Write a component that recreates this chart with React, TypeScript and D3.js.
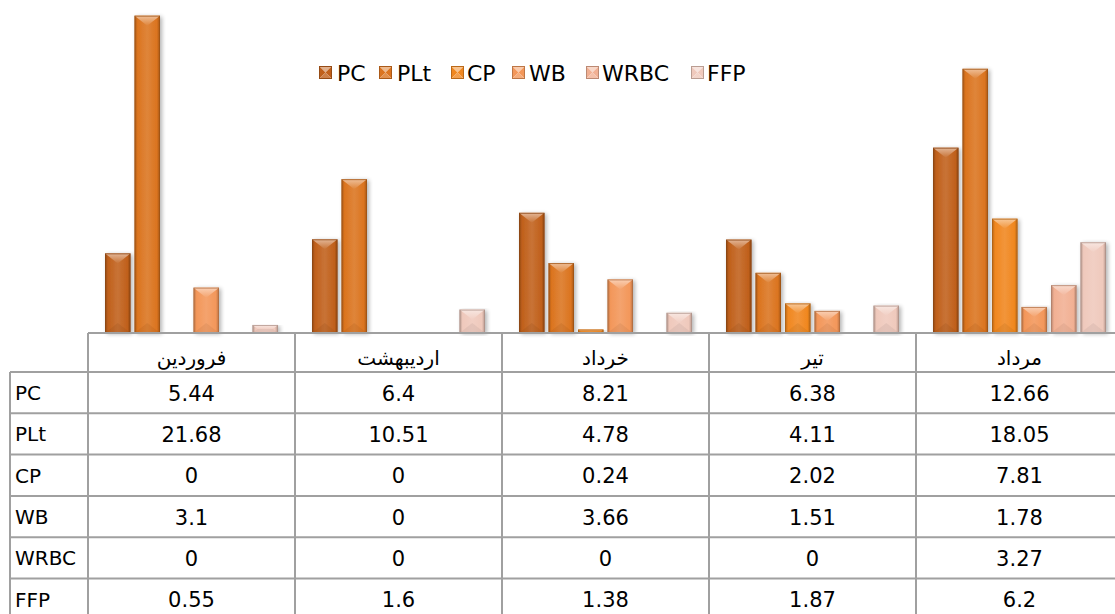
import React from 'react';
import * as d3 from 'd3';

const categories = ['فروردین', 'اردیبهشت', 'خرداد', 'تیر', 'مرداد'];
const seriesNames = ['PC', 'PLt', 'CP', 'WB', 'WRBC', 'FFP'];
const PC = [5.44, 6.4, 8.21, 6.38, 12.66];
const PLt = [21.68, 10.51, 4.78, 4.11, 18.05];
const CP = [0, 0, 0.24, 2.02, 7.81];
const WB = [3.1, 0, 3.66, 1.51, 1.78];
const WRBC = [0, 0, 0, 0, 3.27];
const FFP = [0.55, 1.6, 1.38, 1.87, 6.2];
const seriesValues = [PC, PLt, CP, WB, WRBC, FFP];
const seriesColors = ['#c0601b', '#db741f', '#f0871f', '#f3975a', '#f1b093', '#efc9bc'];

const W = 1115;
const H = 614;
const colW = 207;
const x0 = 88;
const baseY = 333;
const headerBottom = 372;
const rowH = 41.3;
const leftX = 10;
const lineColor = '#a0a0a0';
const font = "'DejaVu Sans', 'Noto Sans', sans-serif";

export default function App() {
  const x = d3.scaleBand<string>().domain(categories).range([x0, x0 + categories.length * colW]).padding(0);
  const xi = d3.scaleBand<string>().domain(seriesNames).range([15, 192]).paddingInner(0.136).paddingOuter(0.068);
  const y = d3.scaleLinear().domain([0, 22]).range([baseY, 11]);

  const bars: React.ReactNode[] = [];
  seriesNames.forEach((s, si) => {
    const col = seriesColors[si];
    const dark = d3.color(col)!.darker(0.9).formatHex();
    categories.forEach((c, ci) => {
      const v = seriesValues[si][ci];
      if (v <= 0) return;
      const bx0 = (x(c) ?? 0) + (xi(s) ?? 0);
      const w = xi.bandwidth();
      const yt = y(v);
      const h = baseY - yt;
      const bh = Math.min(10, h / 2);
      const bxx = (w / 2) * (bh / 10);
      const top = `${bx0},${yt} ${bx0 + w},${yt} ${bx0 + w - bxx},${yt + bh} ${bx0 + bxx},${yt + bh}`;
      const bot = `${bx0},${baseY} ${bx0 + w},${baseY} ${bx0 + w - bxx},${baseY - bh} ${bx0 + bxx},${baseY - bh}`;
      bars.push(
        <g key={s + c}>
          <rect x={bx0} y={yt} width={w} height={h} fill={`url(#body${si})`} filter="url(#shadow)" />
          <polygon points={bot} fill={dark} opacity={0.18} />
          <polygon points={top} fill={`url(#top${si})`} />
          <rect x={bx0 + 0.5} y={yt + 0.5} width={w - 1} height={h - 1} fill="none" stroke={dark} strokeOpacity={0.75} strokeWidth={1} />
        </g>
      );
    });
  });

  const legendItems = [
    { name: 'PC', mx: 319, tx: 337 },
    { name: 'PLt', mx: 379, tx: 397 },
    { name: 'CP', mx: 451, tx: 467 },
    { name: 'WB', mx: 512, tx: 529 },
    { name: 'WRBC', mx: 586, tx: 602 },
    { name: 'FFP', mx: 691, tx: 707 },
  ];
  const ms = 13;
  const legendY = 66;

  const rowLabelX = 15;
  const rows = seriesNames.map((s, i) => headerBottom + i * rowH);

  return (
    <svg width={W} height={H} style={{ position: 'absolute', left: 0, top: 0, background: '#fff' }} xmlns="http://www.w3.org/2000/svg">
      <defs>
        <filter id="shadow" x="-30%" y="-10%" width="160%" height="120%">
          <feGaussianBlur in="SourceAlpha" stdDeviation="2" />
          <feOffset dx="2" dy="1" result="b" />
          <feComponentTransfer><feFuncA type="linear" slope="0.3" /></feComponentTransfer>
          <feMerge><feMergeNode /><feMergeNode in="SourceGraphic" /></feMerge>
        </filter>
        {seriesColors.map((col, i) => {
          const c = d3.color(col)!;
          const dk = c.darker(0.8).formatHex();
          const lt = d3.interpolateRgb(col, '#ffffff')(0.55);
          const lt2 = d3.interpolateRgb(col, '#ffffff')(0.12);
          return (
            <React.Fragment key={i}>
              <linearGradient id={`body${i}`} x1="0" x2="1" y1="0" y2="0">
                <stop offset="0" stopColor={dk} />
                <stop offset="0.12" stopColor={col} />
                <stop offset="0.5" stopColor={lt2} />
                <stop offset="0.88" stopColor={col} />
                <stop offset="1" stopColor={dk} />
              </linearGradient>
              <linearGradient id={`top${i}`} x1="0" x2="0" y1="0" y2="1">
                <stop offset="0" stopColor={lt} />
                <stop offset="1" stopColor={lt2} />
              </linearGradient>
            </React.Fragment>
          );
        })}
      </defs>

      {bars}

      <line x1={x0} x2={W} y1={baseY} y2={baseY} stroke={lineColor} strokeWidth={2} />

      <line x1={leftX} x2={W} y1={headerBottom} y2={headerBottom} stroke={lineColor} strokeWidth={2} />
      {rows.slice(1).map((ry, i) => (
        <line key={i} x1={leftX} x2={W} y1={ry} y2={ry} stroke={lineColor} strokeWidth={2} />
      ))}
      <line x1={leftX} x2={leftX} y1={headerBottom} y2={H} stroke={lineColor} strokeWidth={2} />
      {categories.map((c) => (
        <line key={c} x1={x(c)} x2={x(c)} y1={baseY} y2={H} stroke={lineColor} strokeWidth={2} />
      ))}

      {categories.map((c) => (
        <text key={c} x={(x(c) ?? 0) + colW / 2} y={365} textAnchor="middle" fontFamily={font} fontSize={20} fill="#000" direction="rtl">
          {c}
        </text>
      ))}

      {seriesNames.map((s, si) => (
        <g key={s}>
          <text x={rowLabelX} y={rows[si] + rowH / 2 + 7.5} fontFamily={font} fontSize={20} fill="#000">{s}</text>
          {categories.map((c, ci) => (
            <text key={c} x={(x(c) ?? 0) + colW / 2} y={rows[si] + rowH / 2 + 8} textAnchor="middle" fontFamily={font} fontSize={21} fill="#000">
              {String(seriesValues[si][ci])}
            </text>
          ))}
        </g>
      ))}

      {legendItems.map((it, i) => {
        const col = seriesColors[i];
        const dk = d3.color(col)!.darker(0.7).formatHex();
        const lt = d3.interpolateRgb(col, '#ffffff')(0.5);
        const mx = it.mx, my = legendY, cx = mx + ms / 2, cy = my + ms / 2;
        return (
          <g key={it.name}>
            <polygon points={`${mx},${my} ${mx + ms},${my} ${cx},${cy}`} fill={lt} />
            <polygon points={`${mx},${my} ${cx},${cy} ${mx},${my + ms}`} fill={col} />
            <polygon points={`${mx + ms},${my} ${cx},${cy} ${mx + ms},${my + ms}`} fill={col} />
            <polygon points={`${mx},${my + ms} ${cx},${cy} ${mx + ms},${my + ms}`} fill={d3.interpolateRgb(col, '#ffffff')(0.2)} />
            <rect x={mx + 0.5} y={my + 0.5} width={ms - 1} height={ms - 1} fill="none" stroke={dk} strokeWidth={1} />
            <text x={it.tx} y={my + ms / 2 + 8} fontFamily={font} fontSize={22} fill="#000">{it.name}</text>
          </g>
        );
      })}
    </svg>
  );
}
